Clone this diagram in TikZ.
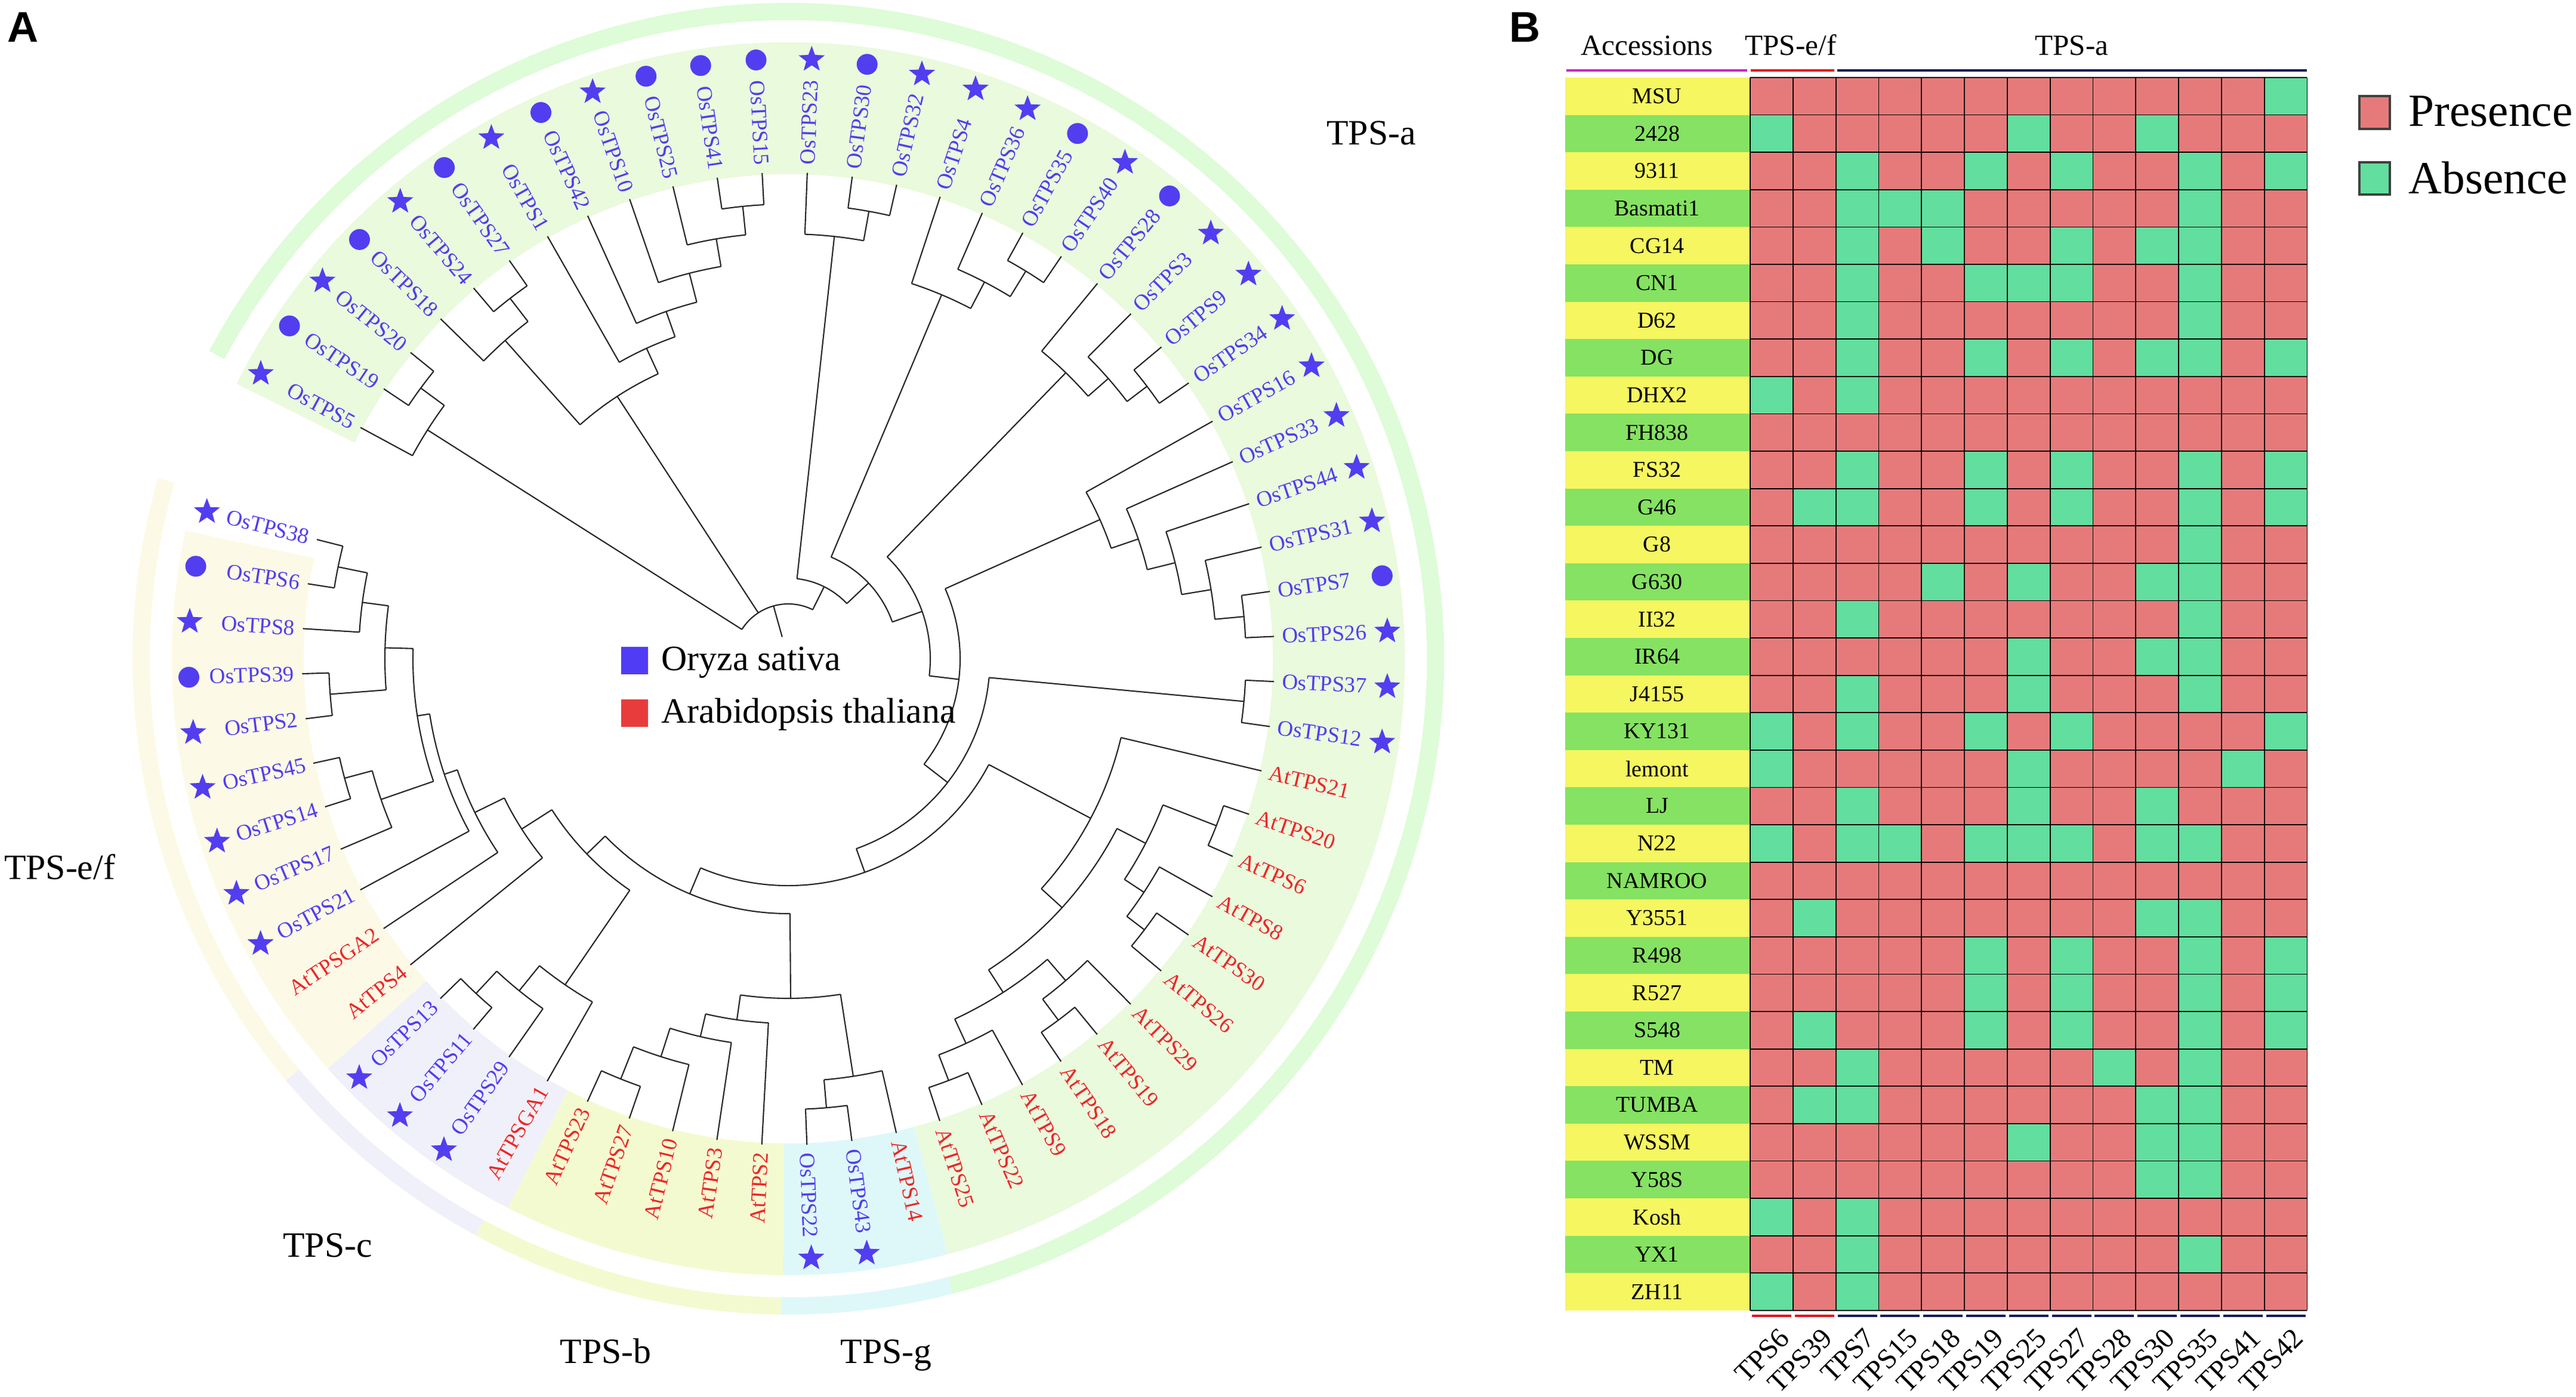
\documentclass[tikz,border=0pt]{standalone}
\usepackage{fontspec}
\setmainfont{Liberation Serif}
\newfontfamily\panelfont{Liberation Sans}
\usetikzlibrary{shapes.geometric}

\definecolor{osblue}{RGB}{82,62,240}
\definecolor{atred}{RGB}{236,40,40}
\definecolor{bandA}{RGB}{234,250,221}
\definecolor{bandG}{RGB}{222,248,250}
\definecolor{bandB}{RGB}{244,250,208}
\definecolor{bandC}{RGB}{240,240,250}
\definecolor{bandEF}{RGB}{252,250,230}
\definecolor{presence}{RGB}{230,122,122}
\definecolor{absence}{RGB}{98,222,158}
\definecolor{rowyellow}{RGB}{246,246,96}
\definecolor{rowgreen}{RGB}{134,226,98}
\definecolor{efred}{RGB}{228,20,30}
\definecolor{anavy}{RGB}{20,28,90}
\definecolor{accmag}{RGB}{200,40,200}
\definecolor{legblue}{RGB}{80,60,245}
\definecolor{legred}{RGB}{232,60,60}

\tikzset{
  branch/.style={line width=0.6pt, black!85},
  leaflabel/.style={font=\fontsize{10.5}{12}\selectfont, inner sep=0pt},
  grouplabel/.style={font=\fontsize{17}{20}\selectfont, inner sep=0pt},
  starsym/.style={star, star points=5, star point ratio=2.4, fill=osblue, inner sep=0pt, minimum size=0.46cm},
  gridline/.style={line width=0.5pt, black},
  rowlabel/.style={font=\fontsize{10.8}{12}\selectfont, inner sep=0pt},
  hdr/.style={font=\fontsize{14}{16}\selectfont, inner sep=0pt},
  collabel/.style={font=\fontsize{13.5}{15}\selectfont, inner sep=0pt},
  legtext/.style={font=\fontsize{22}{24}\selectfont, inner sep=0pt, anchor=west},
  panel/.style={font=\panelfont\bfseries\fontsize{20.5}{22}\selectfont, inner sep=0pt}
}

% arc of a clade at radius #1 from #2 to #3, stem at #4 down to #5
\newcommand{\clade}[5]{%
  \draw[branch] (#2:#1) arc[start angle=#2, end angle=#3, radius=#1];
  \draw[branch] (#4:#5) -- (#4:#1);}
% leaf branch at angle #1 from radius #2 to the tips
\newcommand{\twig}[2]{\draw[branch] (#1:#2) -- (#1:8.15);}
% coloured ring sector
\newcommand{\band}[5]{%
  \fill[#5] (#1:#3) arc[start angle=#1, end angle=#2, radius=#3]
    -- (#2:#4) arc[start angle=#2, end angle=#1, radius=#4] -- cycle;}

\begin{document}
\begin{tikzpicture}
\useasboundingbox (0,0) rectangle (43.17,-23.40);

\node[panel, anchor=base west] (pa) at (0.12,-0.70) {A};
\node[panel, anchor=base] (pb) at (25.55,-0.70) {B};

% ---------- tree ----------
\begin{scope}[shift={(13.21,-11.04)}]
  % label bands
  \band{153.5}{-75}{8.12}{10.33}{bandA}
  \band{-75}{-90.5}{8.12}{10.33}{bandG}
  \band{-90.5}{-117.06}{8.12}{10.33}{bandB}
  \band{-117.06}{-138.34}{8.12}{10.33}{bandC}
  \band{-138.34}{-192}{8.12}{10.33}{bandEF}
  % outer ring
  \band{152}{-75.5}{10.70}{10.99}{bandA!85!green!60!white}
  \band{-75.5}{-90.6}{10.70}{10.99}{bandG}
  \band{-90.6}{-118.5}{10.70}{10.99}{bandB}
  \band{-118.5}{-140}{10.70}{10.99}{bandC}
  \band{-140}{-196}{10.70}{10.99}{bandEF}

  % root
  \draw[branch] (147.61:0.92) arc[start angle=147.61, end angle=63.55, radius=0.92];
  \draw[branch] (105.58:0.38) -- (105.58:0.92);
  % TPS-a, left part
  \clade{7.16}{151.6}{143.62}{147.61}{0.92}
  \twig{151.6}{7.16}
  \clade{7.65}{146.28}{140.96}{143.62}{7.16}
  \twig{146.28}{7.65} \twig{140.96}{7.65}
  \clade{5.25}{131.65}{114.53}{123.09}{0.92}
  \clade{7.14}{135.64}{127.66}{131.65}{5.25}
  \twig{135.64}{7.14}
  \clade{7.63}{130.32}{125.0}{127.66}{7.14}
  \twig{130.32}{7.63} \twig{125.0}{7.63}
  \clade{5.72}{119.68}{109.37}{114.53}{5.25}
  \twig{119.68}{5.72}
  \clade{6.17}{114.36}{104.39}{109.37}{5.72}
  \twig{114.36}{6.17}
  \clade{6.67}{109.04}{99.73}{104.39}{6.17}
  \twig{109.04}{6.67}
  \clade{7.14}{103.72}{95.74}{99.73}{6.67}
  \twig{103.72}{7.14}
  \clade{7.62}{98.40}{93.08}{95.74}{7.14}
  \twig{98.40}{7.62} \twig{93.08}{7.62}
  % backbone going round
  \clade{1.35}{83.77}{43.33}{63.55}{0.92}
  \clade{7.12}{87.76}{79.78}{83.77}{1.35}
  \twig{87.76}{7.12}
  \clade{7.62}{82.44}{77.12}{79.78}{7.12}
  \twig{82.44}{7.62} \twig{77.12}{7.62}
  \clade{1.85}{67.15}{19.5}{43.33}{1.35}
  \clade{6.62}{71.8}{62.49}{67.15}{1.85}
  \twig{71.8}{6.62}
  \clade{7.12}{66.48}{58.5}{62.49}{6.62}
  \twig{66.48}{7.12}
  \clade{7.62}{61.16}{55.84}{58.5}{7.12}
  \twig{61.16}{7.62} \twig{55.84}{7.62}
  \clade{2.38}{45.87}{-6.87}{19.5}{1.85}
  \clade{6.68}{50.52}{41.21}{45.87}{2.38}
  \twig{50.52}{6.68}
  \clade{7.13}{45.2}{37.22}{41.21}{6.68}
  \twig{45.2}{7.13}
  \clade{7.55}{39.88}{34.56}{37.22}{7.13}
  \twig{39.88}{7.55} \twig{34.56}{7.55}
  \clade{2.88}{24.07}{-37.81}{-6.87}{2.38}
  \clade{5.72}{29.24}{18.9}{24.07}{2.88}
  \twig{29.24}{5.72}
  \clade{6.20}{23.92}{13.95}{18.9}{5.72}
  \twig{23.92}{6.20}
  \clade{6.68}{18.6}{9.29}{13.95}{6.20}
  \twig{18.6}{6.68}
  \clade{7.18}{13.28}{5.3}{9.29}{6.68}
  \twig{13.28}{7.18}
  \clade{7.67}{7.96}{2.64}{5.3}{7.18}
  \twig{7.96}{7.67} \twig{2.64}{7.67}
  \clade{3.38}{-5.34}{-70.28}{-37.81}{2.88}
  \clade{7.67}{-2.68}{-8}{-5.34}{3.38}
  \twig{-2.68}{7.67} \twig{-8}{7.67}
  \clade{3.80}{-27.8}{-112.75}{-70.28}{3.38}
  % Arabidopsis TPS-a
  \clade{5.73}{-13.32}{-42.25}{-27.8}{3.80}
  \twig{-13.32}{5.73}
  \clade{6.20}{-27.3}{-57.21}{-42.25}{5.73}
  \clade{6.74}{-21.3}{-33.27}{-27.3}{6.20}
  \clade{7.70}{-18.64}{-23.96}{-21.3}{6.74}
  \twig{-18.64}{7.70} \twig{-23.96}{7.70}
  \clade{7.13}{-29.28}{-37.26}{-33.27}{6.74}
  \twig{-29.28}{7.13}
  \clade{7.50}{-34.6}{-39.92}{-37.26}{7.13}
  \twig{-34.6}{7.50} \twig{-39.92}{7.50}
  \clade{6.65}{-49.23}{-65.19}{-57.21}{6.20}
  \clade{7.12}{-45.24}{-53.22}{-49.23}{6.65}
  \twig{-45.24}{7.12}
  \clade{7.56}{-50.56}{-55.88}{-53.22}{7.12}
  \twig{-50.56}{7.56} \twig{-55.88}{7.56}
  \clade{7.10}{-61.2}{-69.18}{-65.19}{6.65}
  \twig{-61.2}{7.10}
  \clade{7.56}{-66.52}{-71.84}{-69.18}{7.10}
  \twig{-66.52}{7.56} \twig{-71.84}{7.56}
  % TPS-g and TPS-b
  \clade{4.27}{-89.6}{-135.92}{-112.75}{3.80}
  \clade{5.69}{-81.15}{-98.1}{-89.6}{4.27}
  \clade{7.08}{-77.16}{-85.14}{-81.15}{5.69}
  \twig{-77.16}{7.08}
  \clade{7.55}{-82.48}{-87.8}{-85.14}{7.08}
  \twig{-82.48}{7.55} \twig{-87.8}{7.55}
  \clade{6.11}{-93.12}{-103.1}{-98.1}{5.69}
  \twig{-93.12}{6.11}
  \clade{6.50}{-98.44}{-107.75}{-103.1}{6.11}
  \twig{-98.44}{6.50}
  \clade{7.00}{-103.76}{-111.74}{-107.75}{6.50}
  \twig{-103.76}{7.00}
  \clade{7.58}{-109.08}{-114.4}{-111.74}{7.00}
  \twig{-109.08}{7.58} \twig{-114.4}{7.58}
  % TPS-c and TPS-e/f
  \clade{4.70}{-124.4}{-147.44}{-135.92}{4.27}
  \clade{6.62}{-119.72}{-129.03}{-124.4}{4.70}
  \twig{-119.72}{6.62}
  \clade{7.16}{-125.04}{-133.02}{-129.03}{6.62}
  \twig{-125.04}{7.16}
  \clade{7.67}{-130.36}{-135.68}{-133.02}{7.16}
  \twig{-130.36}{7.67} \twig{-135.68}{7.67}
  \clade{5.30}{-141}{-153.89}{-147.44}{4.70}
  \twig{-141}{5.30}
  \clade{5.85}{-146.32}{-161.45}{-153.89}{5.30}
  \twig{-146.32}{5.85}
  \clade{6.08}{-151.64}{-171.26}{-161.45}{5.85}
  \twig{-151.64}{6.08}
  \clade{6.29}{-160.95}{-181.57}{-171.26}{6.08}
  \clade{7.22}{-156.96}{-164.94}{-160.95}{6.29}
  \twig{-156.96}{7.22}
  \clade{7.70}{-162.28}{-167.6}{-164.94}{7.22}
  \twig{-162.28}{7.70} \twig{-167.6}{7.70}
  \clade{6.76}{-175.58}{-187.55}{-181.57}{6.29}
  \clade{7.70}{-172.92}{-178.24}{-175.58}{6.76}
  \twig{-172.92}{7.70} \twig{-178.24}{7.70}
  \clade{7.20}{-183.56}{-191.54}{-187.55}{6.76}
  \twig{-183.56}{7.20}
  \clade{7.70}{-188.88}{-194.2}{-191.54}{7.20}
  \twig{-188.88}{7.70} \twig{-194.2}{7.70}

  % leaf labels: 0 = none, 1 = circle, 2 = star
  \foreach \i/\lname/\sym in {0/OsTPS5/2, 1/OsTPS19/1, 2/OsTPS20/2, 3/OsTPS18/1,
      4/OsTPS24/2, 5/OsTPS27/1, 6/OsTPS1/2, 7/OsTPS42/1, 8/OsTPS10/2, 9/OsTPS25/1,
      10/OsTPS41/1, 11/OsTPS15/1, 12/OsTPS23/2, 13/OsTPS30/1, 14/OsTPS32/2,
      15/OsTPS4/2, 16/OsTPS36/2, 17/OsTPS35/1, 18/OsTPS40/2, 19/OsTPS28/1,
      20/OsTPS3/2, 21/OsTPS9/2, 22/OsTPS34/2, 23/OsTPS16/2, 24/OsTPS33/2,
      25/OsTPS44/2, 26/OsTPS31/2, 27/OsTPS7/1, 28/OsTPS26/2, 29/OsTPS37/2,
      30/OsTPS12/2, 31/AtTPS21/0, 32/AtTPS20/0, 33/AtTPS6/0, 34/AtTPS8/0,
      35/AtTPS30/0, 36/AtTPS26/0, 37/AtTPS29/0, 38/AtTPS19/0, 39/AtTPS18/0,
      40/AtTPS9/0, 41/AtTPS22/0, 42/AtTPS25/0, 43/AtTPS14/0, 44/OsTPS43/2,
      45/OsTPS22/2, 46/AtTPS2/0, 47/AtTPS3/0, 48/AtTPS10/0, 49/AtTPS27/0,
      50/AtTPS23/0, 51/AtTPSGA1/0, 52/OsTPS29/2, 53/OsTPS11/2, 54/OsTPS13/2,
      55/AtTPS4/0, 56/AtTPSGA2/0, 57/OsTPS21/2, 58/OsTPS17/2, 59/OsTPS14/2,
      60/OsTPS45/2, 61/OsTPS2/2, 62/OsTPS39/1, 63/OsTPS8/2, 64/OsTPS6/1,
      65/OsTPS38/2}{
    \pgfmathsetmacro\ang{151.6-5.32*\i}
    \pgfmathtruncatemacro\isleft{(\i<12)||(\i>45)}
    \ifnum\sym=0 \def\tcol{atred}\else\def\tcol{osblue}\fi
    \ifnum\isleft=1
      \node[leaflabel, text=\tcol, anchor=east, rotate=\ang+180] (lf\i) at (\ang:8.28) {\lname};
    \else
      \node[leaflabel, text=\tcol, anchor=west, rotate=\ang] (lf\i) at (\ang:8.28) {\lname};
    \fi
    \ifnum\sym=1 \fill[osblue] (\ang:10.05) circle (0.175); \fi
    \ifnum\sym=2 \node[starsym] (sy\i) at (\ang:10.05) {}; \fi
  }
\end{scope}

% group names
\node[grouplabel, anchor=base] (ga) at (22.98,-2.42) {TPS-a};
\node[grouplabel, anchor=base] (gef) at (1.00,-14.73) {TPS-e/f};
\node[grouplabel, anchor=base] (gc) at (5.49,-21.06) {TPS-c};
\node[grouplabel, anchor=base] (gb) at (10.15,-22.84) {TPS-b};
\node[grouplabel, anchor=base] (gg) at (14.85,-22.84) {TPS-g};

% species legend
\fill[legblue] (10.41,-10.84) rectangle (10.86,-11.30);
\fill[legred] (10.41,-11.72) rectangle (10.86,-12.18);
\node[grouplabel, anchor=west] (os) at (11.08,-11.10) {Oryza sativa};
\node[grouplabel, anchor=west] (at) at (11.08,-11.97) {Arabidopsis thaliana};

% ---------- heat map ----------
\node[hdr, anchor=base] (hacc) at (27.60,-0.92) {Accessions};
\node[hdr, anchor=base] (hef) at (30.01,-0.92) {TPS-e/f};
\node[hdr, anchor=base] (ha) at (34.72,-0.92) {TPS-a};
\draw[accmag, line width=1.4pt] (26.25,-1.18) -- (29.28,-1.18);
\draw[efred, line width=1.4pt] (29.34,-1.18) -- (30.74,-1.18);
\draw[anavy, line width=1.4pt] (30.79,-1.18) -- (38.66,-1.18);

\foreach \name [count=\r from 0] in {MSU,2428,9311,Basmati1,CG14,CN1,D62,DG,DHX2,
    FH838,FS32,G46,G8,G630,II32,IR64,J4155,KY131,lemont,LJ,N22,NAMROO,Y3551,
    R498,R527,S548,TM,TUMBA,WSSM,Y58S,Kosh,YX1,ZH11}{
  \pgfmathsetmacro\yt{-1.30-0.626*\r}
  \pgfmathtruncatemacro\odd{mod(\r,2)}
  \ifnum\odd=0 \def\rc{rowyellow}\else\def\rc{rowgreen}\fi
  \fill[\rc] (26.23,\yt) rectangle (29.32,\yt-0.626);
  \node[rowlabel] (acc\r) at (27.77,\yt-0.313) {\name};
}

\fill[presence] (29.33,-1.30) rectangle (38.664,-21.958);
\foreach \r/\c in {0/12, 1/0, 1/6, 1/9, 2/2, 2/5, 2/7, 2/10, 2/12, 3/2, 3/3, 3/4, 3/10,
    4/2, 4/4, 4/7, 4/9, 4/10, 5/2, 5/5, 5/6, 5/7, 5/10, 6/2, 6/10,
    7/2, 7/5, 7/7, 7/9, 7/10, 7/12, 8/0, 8/2, 10/2, 10/5, 10/7, 10/10, 10/12,
    11/1, 11/2, 11/5, 11/7, 11/10, 11/12, 12/10, 13/4, 13/6, 13/9, 13/10,
    14/2, 14/10, 15/6, 15/9, 15/10, 16/2, 16/6, 16/10, 17/0, 17/2, 17/5, 17/7, 17/12,
    18/0, 18/6, 18/11, 19/2, 19/6, 19/9, 20/0, 20/2, 20/3, 20/5, 20/6, 20/7, 20/9, 20/10,
    22/1, 22/9, 22/10, 23/5, 23/7, 23/10, 23/12, 24/5, 24/7, 24/10, 24/12,
    25/1, 25/5, 25/7, 25/10, 25/12, 26/2, 26/8, 26/10, 27/1, 27/2, 27/9, 27/10,
    28/6, 28/9, 28/10, 29/9, 29/10, 30/0, 30/2, 31/2, 31/10, 32/0, 32/2}{
  \fill[absence] ({29.33+0.718*\c},{-1.30-0.626*\r}) rectangle +(0.718,-0.626);
}
\foreach \c in {0,...,13}
  \draw[gridline] ({29.33+0.718*\c},-1.30) -- ({29.33+0.718*\c},-21.958);
\foreach \r in {0,...,33}
  \draw[gridline] (29.33,{-1.30-0.626*\r}) -- (38.664,{-1.30-0.626*\r});

\foreach \lab [count=\c from 0] in {TPS6,TPS39,TPS7,TPS15,TPS18,TPS19,TPS25,
    TPS27,TPS28,TPS30,TPS35,TPS41,TPS42}{
  \pgfmathsetmacro\cx{29.33+0.718*\c+0.359}
  \ifnum\c<2 \def\lc{efred}\else\def\lc{anavy}\fi
  \draw[\lc, line width=1.4pt] (\cx-0.33,-22.05) -- (\cx+0.33,-22.05);
  \node[collabel, anchor=north east, rotate=45] (col\c) at (\cx+0.10,-22.22) {\lab};
}

% presence legend
\draw[fill=presence, draw=black!75, line width=1.2pt] (39.54,-1.61) rectangle (40.05,-2.16);
\draw[fill=absence, draw=black!75, line width=1.2pt] (39.54,-2.72) rectangle (40.05,-3.26);
\node[legtext] (lp) at (40.36,-1.87) {Presence};
\node[legtext] (la) at (40.36,-2.98) {Absence};
\end{tikzpicture}
\end{document}
